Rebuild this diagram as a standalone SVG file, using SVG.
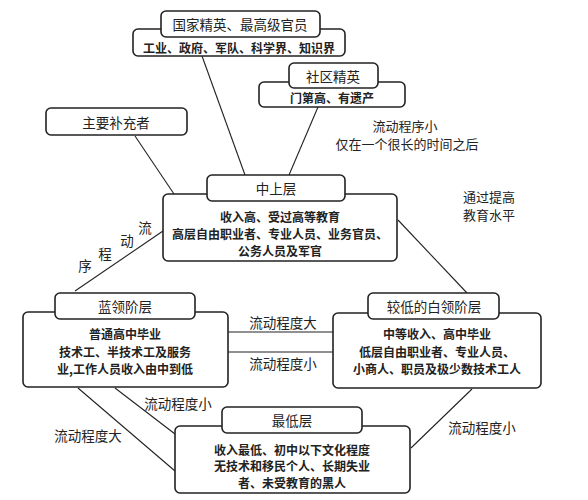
<svg xmlns="http://www.w3.org/2000/svg" width="588" height="500" viewBox="0 0 588 500">
<style>
.box{fill:#fff;stroke:#222;stroke-width:1.6}
.ln{stroke:#222;stroke-width:1.1;fill:none}
text{font-family:"Noto Sans CJK SC","Noto Sans CJK JP",sans-serif;fill:#222;text-anchor:middle;dominant-baseline:central}
.tt{font-size:13.5px}
.bt{font-size:12px;font-weight:bold}
.lb{font-size:13.5px}
.lb2{font-size:13px}
</style>
<rect width="588" height="500" fill="#fff"/>
<g id="connectors">
<line class="ln" x1="202" y1="56" x2="245" y2="175"/>
<line class="ln" x1="318" y1="107" x2="289" y2="175"/>
<line class="ln" x1="135" y1="136" x2="174" y2="194"/>
<line class="ln" x1="163" y1="231" x2="75" y2="291"/>
<line class="ln" x1="398" y1="220" x2="467" y2="293"/>
<line class="ln" x1="228" y1="332" x2="333" y2="332"/>
<line class="ln" x1="228" y1="352" x2="333" y2="352"/>
<line class="ln" x1="78" y1="388" x2="175" y2="471"/>
<line class="ln" x1="115" y1="388" x2="175" y2="434"/>
<line class="ln" x1="472" y1="389" x2="411" y2="448"/>
</g>
<g id="labels">
<text class="lb2" x="405" y="125.5">流动程序小</text>
<text class="lb2" x="407" y="143">仅在一个很长的时间之后</text>
<text class="lb2" x="489" y="196">通过提高</text>
<text class="lb2" x="489" y="214">教育水平</text>
<text class="lb" x="145" y="227">流</text>
<text class="lb" x="127" y="240">动</text>
<text class="lb" x="105" y="253">程</text>
<text class="lb" x="85" y="265">序</text>
<text class="lb" x="283" y="322">流动程度大</text>
<text class="lb" x="283" y="363">流动程度小</text>
<text class="lb" x="178" y="403">流动程度小</text>
<text class="lb" x="88" y="435">流动程度大</text>
<text class="lb" x="482" y="427">流动程度小</text>
</g>
<g id="node-elite">
<rect class="box" x="133" y="29" width="212" height="27" rx="5"/>
<rect class="box" x="161" y="11" width="159" height="26" rx="5"/>
<text class="tt" x="240" y="24">国家精英、最高级官员</text>
<text class="bt" x="239" y="47">工业、政府、军队、科学界、知识界</text>
</g>
<g id="node-community">
<rect class="box" x="259" y="82" width="146" height="25" rx="5"/>
<rect class="box" x="289" y="63" width="89" height="25" rx="5"/>
<text class="tt" x="333" y="75.5">社区精英</text>
<text class="bt" x="332" y="97">门第高、有遗产</text>
</g>
<g id="node-supplement">
<rect class="box" x="46" y="108" width="141" height="27" rx="5"/>
<text class="tt" x="116" y="121.5">主要补充者</text>
</g>
<g id="node-upper-middle">
<rect class="box" x="163" y="194" width="234" height="67" rx="5"/>
<rect class="box" x="207" y="175" width="138" height="26" rx="5"/>
<text class="tt" x="276" y="188">中上层</text>
<text class="bt" x="280" y="216">收入高、受过高等教育</text>
<text class="bt" x="280" y="233">高层自由职业者、专业人员、业务官员、</text>
<text class="bt" x="280" y="250">公务人员及军官</text>
</g>
<g id="node-blue-collar">
<rect class="box" x="23" y="312" width="205" height="75" rx="5"/>
<rect class="box" x="55" y="293" width="140" height="26" rx="5"/>
<text class="tt" x="125" y="306">蓝领阶层</text>
<text class="bt" x="125" y="333">普通高中毕业</text>
<text class="bt" x="125" y="351">技术工、半技术工及服务</text>
<text class="bt" x="125" y="368">业,工作人员收入由中到低</text>
</g>
<g id="node-white-collar">
<rect class="box" x="333" y="313" width="208" height="75" rx="5"/>
<rect class="box" x="368" y="293" width="131" height="26" rx="5"/>
<text class="tt" x="434" y="306">较低的白领阶层</text>
<text class="bt" x="437" y="333">中等收入、高中毕业</text>
<text class="bt" x="437" y="351">低层自由职业者、专业人员、</text>
<text class="bt" x="437" y="368">小商人、职员及极少数技术工人</text>
</g>
<g id="node-lowest">
<rect class="box" x="175" y="426" width="235" height="67" rx="5"/>
<rect class="box" x="222" y="407" width="140" height="26" rx="5"/>
<text class="tt" x="292" y="420">最低层</text>
<text class="bt" x="292" y="449">收入最低、初中以下文化程度</text>
<text class="bt" x="292" y="465.5">无技术和移民个人、长期失业</text>
<text class="bt" x="292" y="482">者、未受教育的黑人</text>
</g>
</svg>
